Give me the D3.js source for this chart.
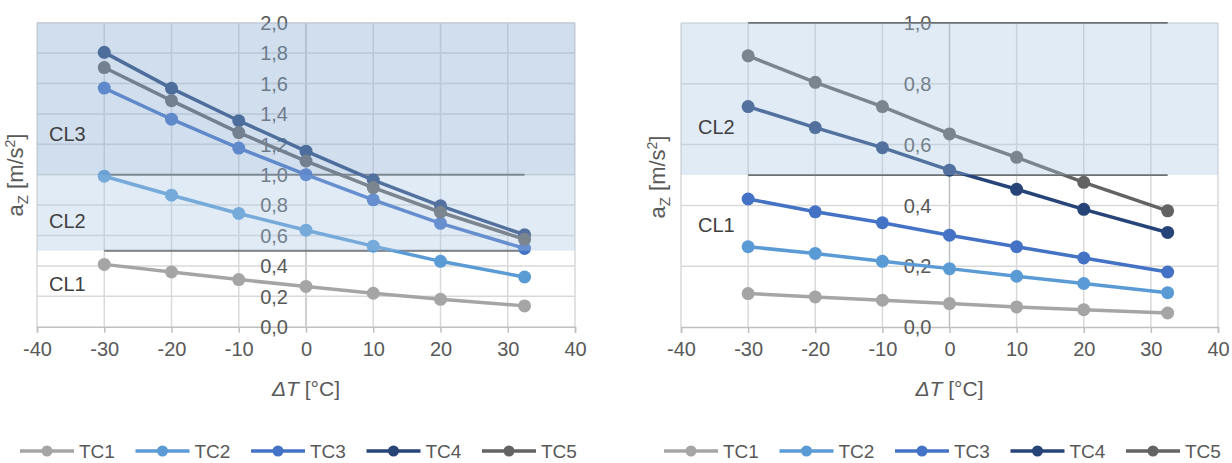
<!DOCTYPE html>
<html>
<head>
    <title>Vertical acceleration vs temperature difference</title>
    <style>
        body {
            margin: 0;
            background: #ffffff;
        }
        svg text {
            font-family: Arial, "Liberation Sans", sans-serif;
        }
    </style>
</head>
<body>
    <svg id="chart" width="1232" height="463"></svg>

    <script src="https://d3js.org/d3.v7.min.js"></script>
    <script>
        // temperature difference [°C]
        const temps = [-30, -20, -10, 0, 10, 20, 32.5];
        const seriesNames = ['TC1', 'TC2', 'TC3', 'TC4', 'TC5'];
        const xTicks = [-40, -30, -20, -10, 0, 10, 20, 30, 40];

        // left chart a_z [m/s2]
        const leftTC1 = [0.41, 0.36, 0.31, 0.265, 0.22, 0.18, 0.137];
        const leftTC2 = [0.99, 0.865, 0.745, 0.635, 0.53, 0.43, 0.327];
        const leftTC3 = [1.57, 1.365, 1.175, 1.0, 0.835, 0.68, 0.515];
        const leftTC4 = [1.805, 1.568, 1.355, 1.155, 0.965, 0.795, 0.605];
        const leftTC5 = [1.705, 1.487, 1.277, 1.09, 0.915, 0.753, 0.575];
        const leftYTicks = [0, 0.2, 0.4, 0.6, 0.8, 1.0, 1.2, 1.4, 1.6, 1.8, 2.0];

        // right chart a_z [m/s2]
        const rightTC1 = [0.11, 0.099, 0.088, 0.077, 0.066, 0.057, 0.046];
        const rightTC2 = [0.264, 0.242, 0.216, 0.192, 0.167, 0.143, 0.113];
        const rightTC3 = [0.421, 0.379, 0.343, 0.302, 0.264, 0.227, 0.181];
        const rightTC4 = [0.725, 0.656, 0.59, 0.516, 0.453, 0.387, 0.311];
        const rightTC5 = [0.892, 0.805, 0.725, 0.635, 0.558, 0.476, 0.382];
        const rightYTicks = [0, 0.2, 0.4, 0.6, 0.8, 1.0];

        // comfort level bands
        const leftBands = [
            {name: 'CL3', from: 1.0, to: 2.0},
            {name: 'CL2', from: 0.5, to: 1.0}
        ];
        const leftBandLabels = [
            {name: 'CL3', y: 1.27},
            {name: 'CL2', y: 0.7},
            {name: 'CL1', y: 0.28}
        ];
        const leftLimits = [1.0, 0.5];

        const rightBands = [
            {name: 'CL2', from: 0.5, to: 1.0}
        ];
        const rightBandLabels = [
            {name: 'CL2', y: 0.66},
            {name: 'CL1', y: 0.335}
        ];
        const rightLimits = [1.0, 0.5];

        const colors = {
            TC1: '#a5a5a5',
            TC2: '#5b9bd5',
            TC3: '#4472c4',
            TC4: '#264478',
            TC5: '#636363'
        };
        const bandFill = {
            CL3: 'rgba(137,172,212,0.4)',
            CL2: 'rgba(166,198,229,0.35)'
        };

        const svg = d3.select('#chart');
        const fmt = d => d3.format('.1f')(d).replace('.', ',');

        function drawPanel(opts) {
            const g = svg.append('g');
            const x = d3.scaleLinear().domain([-40, 40]).range(opts.xRange);
            const y = d3.scaleLinear().domain([0, opts.yMax]).range(opts.yRange);

            // gridlines
            g.append('g')
                .selectAll('line')
                .data(xTicks)
                .enter().append('line')
                .attr('x1', d => x(d))
                .attr('x2', d => x(d))
                .attr('y1', y(0))
                .attr('y2', y(opts.yMax))
                .attr('stroke', d => d === 0 ? '#bfbfbf' : '#d9d9d9')
                .attr('stroke-width', 1.5);

            g.append('g')
                .selectAll('line')
                .data(opts.yTicks.filter(d => d > 0))
                .enter().append('line')
                .attr('x1', x(-40))
                .attr('x2', x(40))
                .attr('y1', d => y(d))
                .attr('y2', d => y(d))
                .attr('stroke', '#d9d9d9')
                .attr('stroke-width', 1.5);

            // x axis at y = 0
            const xAxis = d3.axisBottom(x)
                .tickValues(xTicks)
                .tickSize(6)
                .tickPadding(9)
                .tickFormat(d3.format('d'));
            const gx = g.append('g')
                .attr('transform', `translate(0,${y(0)})`)
                .call(xAxis);
            gx.select('.domain').attr('stroke', '#bfbfbf').attr('stroke-width', 1.5);
            gx.selectAll('.tick line').attr('stroke', '#bfbfbf').attr('stroke-width', 1.5);
            gx.selectAll('.tick text')
                .attr('font-size', 20)
                .attr('fill', '#595959')
                .text(d => d < 0 ? '-' + Math.abs(d) : d);

            // y tick labels sit at the x = 0 axis
            g.append('g')
                .selectAll('text')
                .data(opts.yTicks)
                .enter().append('text')
                .attr('x', x(0) - 18)
                .attr('y', d => y(d))
                .attr('dy', '0.36em')
                .attr('text-anchor', 'end')
                .attr('font-size', 20)
                .attr('fill', '#595959')
                .text(fmt);

            // limit lines
            g.append('g')
                .selectAll('line')
                .data(opts.limits)
                .enter().append('line')
                .attr('x1', x(temps[0]))
                .attr('x2', x(temps[temps.length - 1]))
                .attr('y1', d => y(d))
                .attr('y2', d => y(d))
                .attr('stroke', '#707070')
                .attr('stroke-width', 2);

            // series
            const line = d3.line()
                .x((d, i) => x(temps[i]))
                .y(d => y(d));

            seriesNames.forEach((name, k) => {
                const values = opts.series[k];
                const sg = g.append('g');
                sg.append('path')
                    .datum(values)
                    .attr('d', line)
                    .attr('fill', 'none')
                    .attr('stroke', colors[name])
                    .attr('stroke-width', 3.5);
                sg.selectAll('circle')
                    .data(values)
                    .enter().append('circle')
                    .attr('cx', (d, i) => x(temps[i]))
                    .attr('cy', d => y(d))
                    .attr('r', 6.5)
                    .attr('fill', colors[name]);
            });

            // translucent comfort bands over everything
            g.append('g')
                .selectAll('rect')
                .data(opts.bands)
                .enter().append('rect')
                .attr('x', x(-40))
                .attr('width', x(40) - x(-40))
                .attr('y', d => y(d.to))
                .attr('height', d => y(d.from) - y(d.to))
                .attr('fill', d => bandFill[d.name]);

            g.append('g')
                .selectAll('text')
                .data(opts.bandLabels)
                .enter().append('text')
                .attr('x', opts.xRange[0] + opts.labelOffset)
                .attr('y', d => y(d.y))
                .attr('dy', '0.36em')
                .attr('font-size', 20)
                .attr('fill', '#404040')
                .text(d => d.name);

            // y axis title
            const yt = g.append('text')
                .attr('transform', `translate(${opts.yTitleX},${opts.yTitleY}) rotate(-90)`)
                .attr('text-anchor', 'middle')
                .attr('font-size', 22)
                .attr('fill', '#595959');
            yt.append('tspan').text('a');
            yt.append('tspan').attr('font-size', 15).attr('dy', 5).text('Z');
            yt.append('tspan').attr('dy', -5).text(' [m/s');
            yt.append('tspan').attr('font-size', 14).attr('dy', -8).text('2');
            yt.append('tspan').attr('dy', 8).text(']');

            // x axis title
            const xt = g.append('text')
                .attr('x', x(0))
                .attr('y', 388)
                .attr('dy', '0.36em')
                .attr('text-anchor', 'middle')
                .attr('font-size', 21)
                .attr('fill', '#595959');
            xt.append('tspan').attr('font-style', 'italic').text('\u0394T');
            xt.append('tspan').text(' [°C]');

            // legend
            const legend = g.append('g')
                .attr('transform', `translate(${opts.xRange[0] - 17},451)`);
            const item = legend.selectAll('g')
                .data(seriesNames)
                .enter().append('g')
                .attr('transform', (d, i) => `translate(${i * 115.5},0)`);
            item.append('line')
                .attr('x1', 0)
                .attr('x2', 54)
                .attr('stroke', d => colors[d])
                .attr('stroke-width', 3.5);
            item.append('circle')
                .attr('cx', 27)
                .attr('r', 5.5)
                .attr('fill', d => colors[d]);
            item.append('text')
                .attr('x', 59)
                .attr('dy', '0.35em')
                .attr('font-size', 19)
                .attr('fill', '#595959')
                .text(d => d);
        }

        drawPanel({
            xRange: [37, 575],
            yRange: [326.7, 22.7],
            yMax: 2.0,
            yTicks: leftYTicks,
            series: [leftTC1, leftTC2, leftTC3, leftTC4, leftTC5],
            bands: leftBands,
            bandLabels: leftBandLabels,
            limits: leftLimits,
            labelOffset: 12,
            yTitleX: 23,
            yTitleY: 175
        });

        drawPanel({
            xRange: [681, 1218],
            yRange: [327, 23],
            yMax: 1.0,
            yTicks: rightYTicks,
            series: [rightTC1, rightTC2, rightTC3, rightTC4, rightTC5],
            bands: rightBands,
            bandLabels: rightBandLabels,
            limits: rightLimits,
            labelOffset: 17,
            yTitleX: 665,
            yTitleY: 177
        });
    </script>
</body>
</html>
